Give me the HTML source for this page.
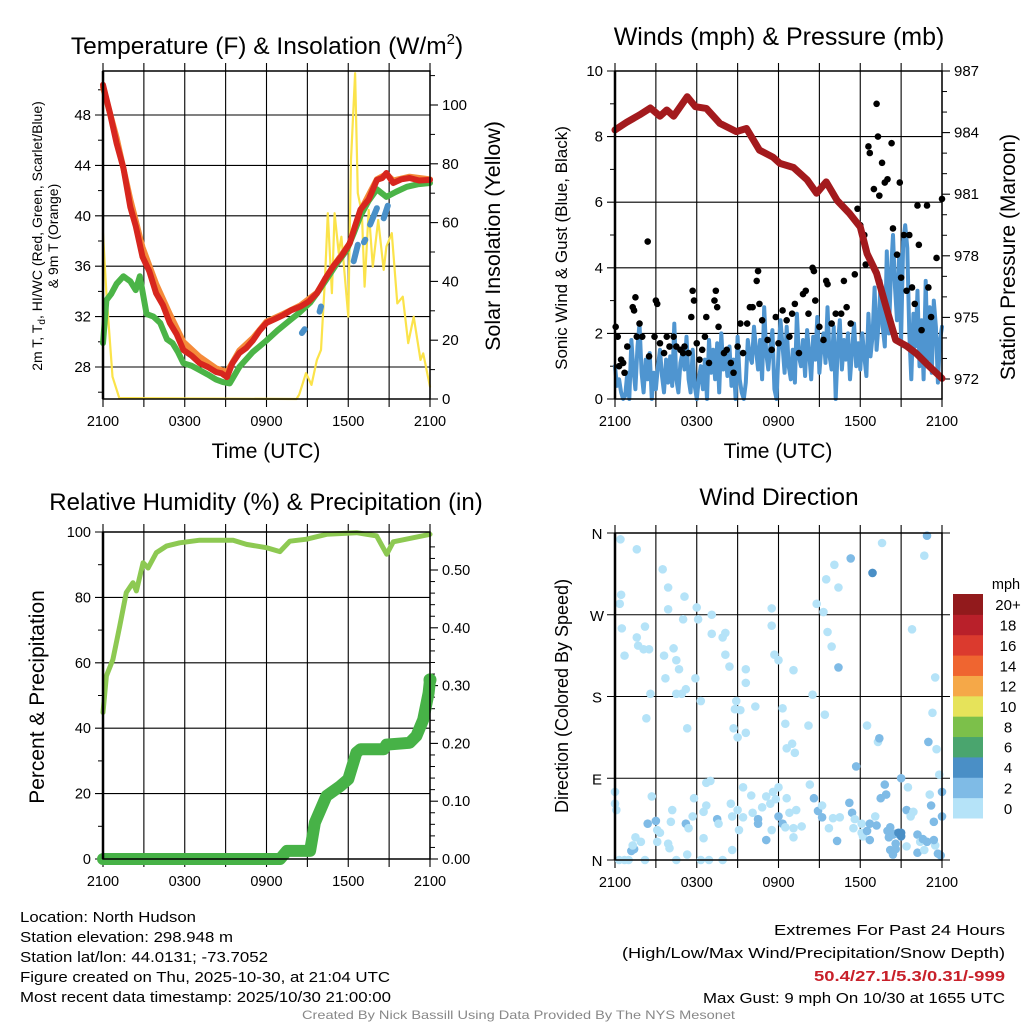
<!DOCTYPE html>
<html><head><meta charset="utf-8"><style>
html,body{margin:0;padding:0;background:#fff;}
svg{display:block;font-family:"Liberation Sans",sans-serif;}
</style></head><body>
<svg id="fig" width="1024" height="1024" viewBox="0 0 1024 1024">
<g id="layer"></g>
<text x="267" y="54" font-size="24.5" text-anchor="middle">Temperature (F) &amp; Insolation (W/m<tspan dy="-10" font-size="15">2</tspan><tspan dy="10">)</tspan></text>
<text x="779" y="45" font-size="25" text-anchor="middle">Winds (mph) &amp; Pressure (mb)</text>
<text x="266" y="510" font-size="24" text-anchor="middle">Relative Humidity (%) &amp; Precipitation (in)</text>
<text x="779" y="505" font-size="24.5" text-anchor="middle">Wind Direction</text>
<text x="266" y="458" font-size="21" text-anchor="middle">Time (UTC)</text>
<text x="778" y="458" font-size="21" text-anchor="middle">Time (UTC)</text>
<g transform="translate(42,236) rotate(-90)"><text x="0" y="0" font-size="14" text-anchor="middle">2m T, T<tspan font-size="10" dy="3">d</tspan><tspan dy="-3">, HI/WC (Red, Green, Scarlet/Blue)</tspan></text><text x="0" y="16" font-size="14" text-anchor="middle">&amp; 9m T (Orange)</text></g>
<text transform="translate(500,236) rotate(-90)" font-size="21.5" text-anchor="middle">Solar Insolation (Yellow)</text>
<text transform="translate(567,248) rotate(-90)" font-size="17" text-anchor="middle">Sonic Wind &amp; Gust (Blue, Black)</text>
<text transform="translate(1015,257) rotate(-90)" font-size="21" text-anchor="middle">Station Pressure (Maroon)</text>
<text transform="translate(44,697) rotate(-90)" font-size="21" text-anchor="middle">Percent &amp; Precipitation</text>
<text transform="translate(568,696) rotate(-90)" font-size="18" text-anchor="middle">Direction (Colored By Speed)</text>
<g font-size="15">
<text x="20" y="922" textLength="176" lengthAdjust="spacingAndGlyphs">Location: North Hudson</text>
<text x="20" y="942" textLength="213" lengthAdjust="spacingAndGlyphs">Station elevation: 298.948 m</text>
<text x="20" y="962" textLength="248" lengthAdjust="spacingAndGlyphs">Station lat/lon: 44.0131; -73.7052</text>
<text x="20" y="982" textLength="370" lengthAdjust="spacingAndGlyphs">Figure created on Thu, 2025-10-30, at 21:04 UTC</text>
<text x="20" y="1002" textLength="371" lengthAdjust="spacingAndGlyphs">Most recent data timestamp: 2025/10/30 21:00:00</text>
</g>
<g font-size="15">
<text x="774" y="935" textLength="231" lengthAdjust="spacingAndGlyphs">Extremes For Past 24 Hours</text>
<text x="622" y="958" textLength="383" lengthAdjust="spacingAndGlyphs">(High/Low/Max Wind/Precipitation/Snow Depth)</text>
<text x="814" y="981" textLength="191" lengthAdjust="spacingAndGlyphs" fill="#c8202a" font-weight="bold">50.4/27.1/5.3/0.31/-999</text>
<text x="703" y="1003" textLength="302" lengthAdjust="spacingAndGlyphs">Max Gust: 9 mph On 10/30 at 1655 UTC</text>
</g>
<text x="302" y="1019" font-size="12" fill="#888" textLength="433" lengthAdjust="spacingAndGlyphs">Created By Nick Bassill Using Data Provided By The NYS Mesonet</text>
</svg>
<script>
// ---------- data ----------
const xTickLabels = ["2100","0300","0900","1500","2100"];
const tempTicks = [28,32,36,40,44,48];
const insolTicks = [0,20,40,60,80,100];
const windTicks = [0,2,4,6,8,10];
const presTicks = [972,975,978,981,984,987];
const rhTicks = [0,20,40,60,80,100];
const precipTicks = ["0.00","0.10","0.20","0.30","0.40","0.50"];
const dirTickLabels = ["N","E","S","W","N"];
const legendLabels = ["0","2","4","6","8","10","12","14","16","18","20+"];

const tRedH = [0,0.5,1,1.5,2,2.4,2.9,3.4,3.9,4.4,4.9,5.4,5.9,6.5,7.1,7.7,8.3,8.7,9.1,9.5,10,10.5,11,11.5,12,12.6,13.2,13.8,14.5,15.1,15.7,16.3,16.9,17.5,18.1,18.5,18.9,19.5,20.1,20.5,20.8,21.3,21.9,22.5,23.2,24];
const tRed  = [50.4,48.2,45.75,43.8,40.7,39.2,36.75,35.6,33.85,32.9,31.5,30.6,29.35,28.9,28.3,28.0,27.6,27.5,27.2,28.3,29.1,29.5,30.1,30.9,31.5,31.8,32.1,32.5,32.8,33.2,33.85,35.0,36,36.8,37.8,39.2,40.5,41.3,42.85,43.0,43.4,42.6,42.9,43,42.8,42.85];
const tOrgH = [0,1,2,2.9,3.9,4.9,5.9,7.1,8.3,9.1,10,11,12,13.2,14.5,15.7,16.9,18.1,18.9,20.1,20.8,21.3,22.5,24];
const tOrg  = [50.2,46.2,41.3,37.5,34.6,32.2,30.0,28.8,27.9,27.6,29.3,30.3,31.6,32.2,32.9,33.9,36,37.8,40.4,42.9,43.3,42.8,43.1,42.9];
const tGrnH = [0,0.25,0.6,1.0,1.5,2.0,2.4,2.7,3.2,3.7,4.2,4.7,5.1,5.5,5.9,6.5,7.1,7.7,8.3,8.8,9.3,10,11,12,12.8,13.7,14.4,15.2,15.8,16.4,17.1,17.9,18.4,18.9,19.5,20.1,20.8,21.5,22.3,23.1,24];
const tGrn  = [29.9,33.3,33.8,34.6,35.2,34.8,34.1,35.2,32.2,32.0,31.5,30.2,29.9,29.2,28.3,28.1,27.75,27.4,27,26.8,26.7,28,29.2,30.1,30.9,31.7,32.3,33.1,34.0,34.95,36.1,37.3,38.6,40,41.2,42.1,41.5,41.9,42.3,42.5,42.6];
const hiwcH = [14.6,14.8,null,15.9,16.0,null,18.4,18.7,null,19.15,19.25,null,19.6,20.1,null,20.6,20.9];
const hiwc  = [30.7,31.0,null,32.4,32.8,null,36.4,37.7,null,37.9,38.1,null,39.3,40.6,null,39.8,40.8];
const insolH = [0,0.25,0.7,1.2,14.2,14.4,14.9,15.3,15.7,16,16.3,16.5,16.8,17,17.3,17.5,18,18.2,18.5,18.7,19,19.2,19.5,19.8,20.2,20.6,20.8,21.2,21.6,22,22.2,22.4,22.8,23.3,23.5,24];
const insol  = [56.3,36,7.6,0.3,0,1.5,8.8,4.8,13.3,16.7,41.6,63.2,36,63.2,49.7,55.2,28,81.3,110.8,70,63.2,38.2,64.3,45,60.9,43.9,51.8,56.4,32.5,34.8,26.9,19,28,13.3,15.5,4.2];

const presH = [0,0.85,1.8,2.6,3.3,3.8,4.3,5.3,5.9,6.7,7.7,8.9,9.65,10.6,11.6,12.1,13.1,14.1,14.8,15.5,16.3,17.2,18,18.5,19.2,19.9,20.6,21.4,22.1,23.1,24];
const pres  = [984.13,984.5,984.86,985.2,984.8,985.1,984.8,985.75,985.26,985.18,984.45,984.05,984.2,983.15,982.8,982.5,982.3,981.7,981.05,981.6,980.7,980.07,979.4,978.1,977.15,975.5,973.9,973.6,973.25,972.6,972.03];
const sonic = [1.0,0.4,0.6,0.2,0.0,0.1,0.8,0.0,1.8,0.9,0.3,1.6,2.3,0.8,0.2,1.2,0.6,1.4,0.0,0.8,0.3,1.0,1.5,0.7,0.2,1.2,0.5,1.3,0.4,2.3,0.6,0.2,1.1,1.4,0.9,1.9,0.6,0.2,1.5,0.4,0.0,0.6,1.0,0.3,1.2,0.0,1.8,0.8,1.5,0.6,1.7,0.2,2.0,0.9,1.4,0.7,1.6,0.4,1.2,0.0,1.9,0.6,0.2,0.0,0.5,1.8,1.3,1.1,2.2,1.5,0.9,1.8,0.6,2.8,1.4,0.9,1.6,2.1,0.3,0.0,1.4,2.4,1.6,0.8,2.2,1.0,0.6,1.5,0.5,2.6,1.3,1.0,1.8,0.7,2.1,1.4,0.6,1.9,1.2,2.5,0.8,1.6,2.0,1.1,2.8,1.3,0.9,2.2,0.0,1.6,2.4,0.9,1.8,1.2,2.0,0.6,1.5,2.3,1.0,1.7,0.9,2.0,1.3,0.7,2.6,1.3,1.9,3.4,1.5,2.3,3.6,2.2,1.6,4.5,2.0,3.8,5.0,3.4,2.4,4.4,1.8,4.8,5.3,4.6,2.0,0.6,2.6,1.6,3.3,1.0,2.4,0.6,3.6,1.2,2.8,0.8,3.0,2.2,0.5,1.8,2.2];
const gustH = [0.05,0.2,0.3,0.45,0.6,0.7,0.9,1.3,1.4,1.5,1.6,1.8,2.0,2.4,2.5,2.9,3.0,3.1,3.3,3.6,3.8,4.0,4.3,4.5,4.8,5.0,5.1,5.4,5.6,5.7,5.8,6.0,6.2,6.4,6.6,6.7,6.9,7.3,7.4,7.5,7.6,8.0,8.2,8.5,8.7,9.0,9.2,9.4,9.7,9.9,10.1,10.4,10.5,10.6,10.8,11.2,11.5,11.8,12.0,12.3,12.6,12.8,13.0,13.2,13.5,13.8,14.0,14.2,14.5,14.6,14.7,15.0,15.3,15.5,15.6,15.9,16.2,16.6,16.8,17.0,17.3,17.6,17.8,18.0,18.3,18.4,18.6,18.7,19.0,19.2,19.3,19.4,19.6,19.8,20.0,20.3,20.4,20.7,20.9,21.0,21.2,21.4,21.6,21.8,22.0,22.2,22.3,22.5,22.9,23.0,23.2,23.6,24];
const gust  = [2.2,1.9,1.0,1.2,1.1,0.8,1.6,2.8,2.7,3.1,1.9,2.3,1.9,4.8,1.3,1.9,3.0,2.9,1.7,1.4,1.9,1.6,1.9,1.6,1.5,1.4,1.6,1.4,2.5,3.3,3.0,1.7,1.2,1.5,1.9,2.5,1.1,3.0,3.3,2.8,2.2,1.4,1.5,1.1,0.8,1.6,2.3,1.4,2.3,2.8,2.8,3.6,3.9,2.9,2.4,1.8,1.5,2.5,1.7,2.7,2.4,1.9,2.6,2.9,1.4,3.2,3.3,2.6,4.0,3.9,3.0,2.2,1.8,3.6,3.5,2.3,2.6,2.6,3.6,2.8,2.3,3.8,5.8,5.3,5.0,4.1,7.7,7.5,6.4,9.0,8.0,6.2,7.2,6.6,6.7,7.8,5.2,4.4,6.6,3.7,5.0,3.3,5.0,3.4,2.9,5.9,4.7,2.1,5.9,3.4,2.5,4.3,6.1];

const rhH = [0,0.25,0.73,1.22,1.71,2.2,2.45,2.94,3.31,3.92,4.65,5.63,7.1,9.55,10.53,12,12.98,13.71,14.94,16.41,18.61,20.08,20.82,21.31,24];
const rh  = [44.8,56,61,71,81.5,84.5,82,90.6,89,93.7,95.7,96.7,97.5,97.5,96.2,95.2,94,97.2,97.8,99.3,99.8,98.8,93.2,97,99.3];
const prH = [0,13,13.5,15.2,15.55,16.4,17.4,18,18.6,18.9,20.6,20.8,22.5,23,23.5,23.9,24];
const pr  = [0,0,0.014,0.014,0.063,0.109,0.126,0.138,0.184,0.19,0.19,0.198,0.201,0.213,0.241,0.287,0.31];

const dirH = [0.4,0.45,0.35,0.5,0.7,1.6,1.6,1.7,2.1,2.2,2.5,2.6,2.3,3.5,3.9,3.9,4.3,4.5,4.7,3.6,3.7,4.5,4.9,5.2,5.3,5.0,5.1,6.0,6.1,5.9,6.3,7.1,7.1,7.9,8.1,8.1,8.4,8.9,8.8,8.7,9.0,9.6,9.6,9.6,9.2,10.3,11.5,11.5,11.7,12.0,12.5,12.3,12.6,13.1,13.0,13.2,14.5,14.2,15.4,15.6,15.9,16.4,14.8,15.3,15.5,16.1,18.5,19.3,21.8,22.7,23.5,23.3,23.6,18.9,17.3,19.6,22.9,16.4,19.4,17.7,23.0,
 0,0,0.1,0.3,0.7,1.0,1.2,1.4,1.5,1.3,1.9,2.2,2.4,2.7,3.0,3.1,3.3,3.1,3.9,4.1,4.2,4.0,4.5,5.2,5.4,5.3,5.7,6.3,5.8,6.5,6.7,7.0,6.7,7.5,7.6,6.5,6.9,7.9,8.6,8.5,9.0,9.1,9.4,8.6,9.4,10.0,10.1,10.5,10.8,10.5,11.1,11.4,11.6,11.8,11.5,11.1,12.0,12.3,12.0,12.6,13.3,12.5,12.8,13.1,13.1,13.7,14.3,14.9,14.6,15.2,15.2,15.7,16.0,16.3,16.5,17.2,17.4,17.6,17.5,18.1,18.1,18.2,18.5,18.7,18.7,19.1,19.2,19.5,19.8,19.9,20.0,20.1,20.2,20.4,20.6,20.6,20.8,21.0,21.0,20.2,20.4,20.6,21.4,21.5,21.4,21.7,21.9,22.2,22.4,22.2,22.6,22.7,22.9,23.1,23.2,23.4,23.5,23.4,23.7,23.9,24,24,23.8,21.0];
const dirDeg = [353,292,282,255,225,342,245,236,232,257,232,183,156,320,300,276,233,220,210,225,200,183,183,188,145,265,290,278,265,200,175,270,249,245,226,250,213,175,166,145,135,195,210,140,165,169,277,258,226,220,150,167,123,209,128,118,182,148,160,251,235,300,282,273,309,325,148,130,254,335,201,162,122,316,332,349,357,212,134,103,130,
 75,62,55,0,0,0,10,12,25,16,20,0,40,70,43,33,30,20,18,42,55,13,0,40,35,6,48,0,68,53,85,87,60,45,40,24,0,0,48,62,55,33,47,11,80,71,52,45,58,40,70,62,75,67,33,22,48,40,80,68,55,36,52,35,25,37,83,54,68,47,60,35,46,21,47,63,52,45,35,40,30,26,32,22,40,48,38,68,83,72,32,25,36,28,18,29,30,30,26,11,6,12,55,80,15,48,53,28,20,8,23,11,20,72,60,42,16,22,7,5,75,48,94,90];
const dirSpd = [0.5,0.5,0.5,0.5,0.5,0.5,0.5,0.5,0.5,0.5,0.5,0.5,0.5,0.5,0.5,0.5,0.5,0.5,0.5,0.5,0.5,0.5,0.5,0.5,0.5,0.5,0.5,0.5,0.5,0.5,0.5,0.5,0.5,0.5,0.5,0.5,0.5,0.5,0.5,0.5,0.5,0.5,0.5,0.5,0.5,0.5,0.5,0.5,0.5,0.5,0.5,0.5,0.5,0.5,0.5,0.5,0.5,0.5,0.5,0.5,0.5,0.5,0.5,0.5,0.5,0.5,0.5,0.5,0.5,0.5,0.5,0.5,0.5,4,2,0.5,2,3,3,3,3,
 0.5,0.5,0.5,0.5,0.5,0.5,2,2,0.5,0.5,0.5,0.5,3,0.5,3,0.5,0.5,0.5,0.5,0.5,0.5,0.5,0.5,3,0.5,0.5,0.5,0.5,0.5,0.5,0.5,0.5,0.5,3,0.5,0.5,0.5,0.5,0.5,0.5,0.5,0.5,0.5,0.5,0.5,0.5,0.5,3,0.5,3,0.5,0.5,0.5,0.5,0.5,3,3,3,0.5,0.5,0.5,0.5,0.5,0.5,0.5,0.5,0.5,3,3,3,0.5,0.5,0.5,3,0.5,3,3,0.5,0.5,0.5,0.5,0.5,3,3,3,0.5,3,3,3,3,3,3,3,3,3,3,4,4,4,3,3,3,3,0.5,0.5,0.5,0.5,3,0.5,3,3,0.5,3,0.5,3,3,0.5,3,3,3,3,3,0.5,3];

// ---------- drawing ----------
const NS="http://www.w3.org/2000/svg";
const layer=document.getElementById('layer');
function mk(tag,attrs,parent){const e=document.createElementNS(NS,tag);for(const k in attrs)e.setAttribute(k,attrs[k]);(parent||layer).appendChild(e);return e;}
function scale(d0,d1,r0,r1){return v=>r0+(v-d0)*(r1-r0)/(d1-d0);}
function pathD(xs,ys,fx,fy){let d="",pen=false;for(let i=0;i<xs.length;i++){if(xs[i]===null||ys[i]===null){pen=false;continue;}d+=(pen?"L":"M")+fx(xs[i]).toFixed(1)+","+fy(ys[i]).toFixed(1);pen=true;}return d;}

function frame(L,R,T,B,name){
  const g=mk('g',{});
  
  
  const fx=scale(0,24,L,R);
  for(let h=0;h<=24;h+=3){
    const x=fx(h);
    mk('line',{x1:x,y1:T-8,x2:x,y2:B+8,stroke:'#000','stroke-width':1.1},g);
  }
  xTickLabels.forEach((lab,i)=>{
    const t=mk('text',{x:fx(i*6),y:B+27,'font-size':14.5,'text-anchor':'middle'},g);
    t.textContent=lab;
  });
  return {g,fx};
}
function yAxisLeft(g,L,R,vals,labels,fy,minor,fs){
  vals.forEach((v,i)=>{const y=fy(v);mk('line',{x1:L-8,y1:y,x2:R,y2:y,stroke:'#000','stroke-width':1.1},g);
    const t=mk('text',{x:L-12,y:y+5,'font-size':fs||15,'text-anchor':'end'},g);t.textContent=labels[i];});
  (minor||[]).forEach(v=>{const y=fy(v);mk('line',{x1:L-5,y1:y,x2:L,y2:y,stroke:'#000','stroke-width':1},g);});
}
function yAxisRight(g,R,vals,labels,fy,minor,fs){
  vals.forEach((v,i)=>{const y=fy(v);mk('line',{x1:R,y1:y,x2:R+8,y2:y,stroke:'#000','stroke-width':1.1},g);
    const t=mk('text',{x:R+12,y:y+5,'font-size':fs||15,'text-anchor':'start'},g);t.textContent=labels[i];});
  (minor||[]).forEach(v=>{const y=fy(v);mk('line',{x1:R,y1:y,x2:R+5,y2:y,stroke:'#000','stroke-width':1},g);});
}
function border(L,R,T,B){mk('rect',{x:L,y:T,width:R-L,height:B-T,fill:'none',stroke:'#000','stroke-width':1.5});mk('line',{x1:L,y1:T,x2:L,y2:B,stroke:'#000','stroke-width':2.5});}
function series(d,color,w,name){const p=mk('path',{d:d,fill:'none',stroke:color,'stroke-width':w,'stroke-linejoin':'round','stroke-linecap':'round'});return p;}

// Panel 1: temperature
(function(){
  const L=103,R=430,T=71,B=399;
  const {g,fx}=frame(L,R,T,B,'temp');
  const fy=scale(28,48,367,115);
  const fi=scale(0,100,399,105);
  yAxisLeft(g,L,R,tempTicks,tempTicks.map(String),fy,[26,30,34,38,42,46,50]);
  const im=[];for(let v=10;v<=110;v+=20)im.push(v);
  yAxisRight(g,R,insolTicks,insolTicks.map(String),fi,im);
  series(pathD(insolH,insol,fx,fi),'#fbe34a',2.2,'insolation-line');
  series(pathD(tOrgH,tOrg,fx,fy),'#f58a3a',6,'temp-9m-line');
  series(pathD(tGrnH,tGrn,fx,fy),'#4bb447',6,'dewpoint-line');
  series(pathD(tRedH,tRed,fx,fy),'#d7261e',6,'temp-2m-line');
  series(pathD(hiwcH,hiwc,fx,fy),'#4a90c8',6,'heat-index-wind-chill-line');
  border(L,R,T,B);
})();

// Panel 2: winds
(function(){
  const L=615,R=942,T=71,B=399;
  const {g,fx}=frame(L,R,T,B,'wind');
  const fy=scale(0,10,399,71);
  const fp=scale(972,987,379,71);
  yAxisLeft(g,L,R,windTicks,windTicks.map(String),fy,[1,3,5,7,9]);
  const pm=[];for(let v=973;v<987;v++)if((v-972)%3)pm.push(v);
  yAxisRight(g,R,presTicks,presTicks.map(String),fp,pm);
  const sh=sonic.map((v,i)=>i*24/(sonic.length-1));
  series(pathD(sh,sonic,fx,fy),'#4f95d0',4,'sonic-wind-line');
  const gg=mk('g',{});
  
  
  gust.forEach((v,i)=>{const c=mk('circle',{cx:fx(gustH[i]),cy:fy(v),r:3.3,fill:'#000'},gg);
    
    });
  series(pathD(presH,pres,fx,fp),'#a31a1d',7,'pressure-line');
  border(L,R,T,B);
})();

// Panel 3: RH & precip
(function(){
  const L=103,R=430,T=532,B=859;
  const {g,fx}=frame(L,R,T,B,'rh');
  const fy=scale(0,100,859,532);
  const fp=scale(0,0.5,859,570);
  yAxisLeft(g,L,R,rhTicks,rhTicks.map(String),fy,[10,30,50,70,90],14.5);
  const pv=precipTicks.map(Number);
  const pm=[];for(let k=1;k<=27;k++){const v=k*0.02;if(k%5)pm.push(v);}
  yAxisRight(g,R,pv,precipTicks,fp,pm,14.5);
  series(pathD(prH,pr,fx,fp),'#47b247',12,'precip-line');
  const e=mk('circle',{cx:fx(prH[prH.length-1]),cy:fp(pr[pr.length-1]),r:6.5,fill:'#47b247'});
  
  
  series(pathD(rhH,rh,fx,fy),'#8dc952',5,'rh-line');
  border(L,R,T,B);
})();

// Panel 4: wind direction
(function(){
  const L=615,R=942,T=533,B=860;
  const {g,fx}=frame(L,R,T,B,'dir');
  const fy=scale(0,360,860,533);
  const dv=[0,90,180,270,360];
  dv.forEach((v,i)=>{const y=fy(v);mk('line',{x1:L-8,y1:y,x2:R+8,y2:y,stroke:'#000','stroke-width':1.1},g);
    const t=mk('text',{x:L-18,y:y+6,'font-size':15,'text-anchor':'middle'},g);t.textContent=dirTickLabels[i];});
  const cols=['#b5e3f8','#7fbbe6','#4a8fc6','#4aa56e','#7cc04a','#e6e35a','#f5a848','#ef6530','#db3a2e','#b9202a','#921a1c'];
  const gg=mk('g',{});
  
  
  dirDeg.forEach((d,i)=>{const bin=Math.min(10,Math.floor(dirSpd[i]/2));
    const c=mk('circle',{cx:fx(dirH[i]),cy:fy(d),r:4.3,fill:cols[bin]},gg);
    
    });
  border(L,R,T,B);
  // legend
  const lg=mk('g',{});
  
  
  const top=594,bot=818,h=(bot-top)/legendLabels.length;
  legendLabels.forEach((lab,i)=>{
    const y=bot-(i+1)*h;
    const r=mk('rect',{x:953,y:y,width:30,height:h+0.5,fill:cols[i]},lg);
    
    
    const t=mk('text',{x:1008,y:y+h/2+6,'font-size':15,'text-anchor':'middle'},lg);
    t.textContent=lab;
  });
  const m=mk('text',{x:1006,y:589,'font-size':14.5,'text-anchor':'middle'},lg);m.textContent='mph';
})();
</script>
</body></html>
